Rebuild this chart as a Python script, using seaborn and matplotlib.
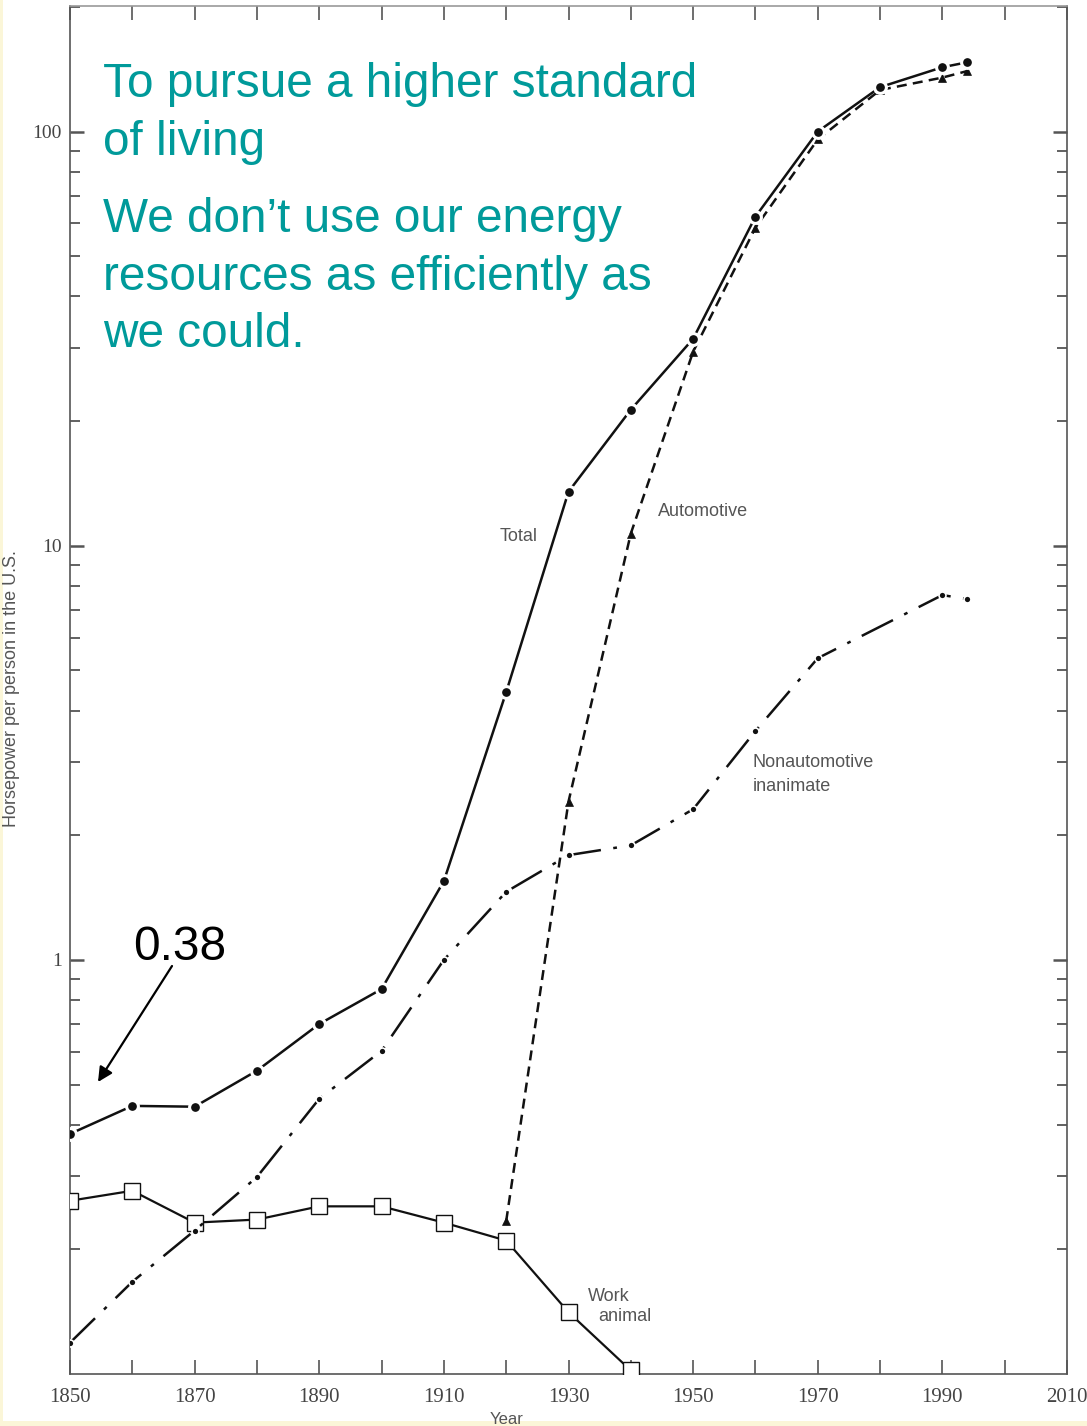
import matplotlib
matplotlib.use("Agg")
import matplotlib.pyplot as plt
import matplotlib.ticker as mticker
from matplotlib.patches import Rectangle
import numpy as np
import pandas as pd
import seaborn as sns

# Horsepower per person in the U.S., by source
years_total = [1850, 1860, 1870, 1880, 1890, 1900, 1910, 1920, 1930, 1940, 1950, 1960, 1970, 1980, 1990, 1994]
hp_total = [0.38, 0.444, 0.442, 0.54, 0.70, 0.85, 1.55, 4.43, 13.5, 21.3, 31.6, 62.3, 100, 128, 143, 147]

years_auto = [1920, 1930, 1940, 1950, 1960, 1970, 1980, 1990, 1994]
hp_auto = [0.234, 2.41, 10.7, 29.4, 58.6, 95.7, 126, 135, 140]

years_nonauto = [1850, 1860, 1870, 1880, 1890, 1900, 1910, 1920, 1930, 1940, 1950, 1960, 1970, 1990, 1994]
hp_nonauto = [0.119, 0.167, 0.222, 0.299, 0.462, 0.603, 1.0, 1.46, 1.79, 1.89, 2.31, 3.57, 5.35, 7.60, 7.43]

years_animal = [1850, 1860, 1870, 1880, 1890, 1900, 1910, 1920, 1930, 1940]
hp_animal = [0.262, 0.277, 0.232, 0.236, 0.254, 0.254, 0.232, 0.210, 0.141, 0.102]

x_ticks = list(range(1850, 2011, 10))
x_labels = [str(y) if (y - 1850) % 20 == 0 else "" for y in x_ticks]

sns.set_style("white")
plt.rcParams["font.family"] = ["Liberation Sans", "DejaVu Sans"]

W, H = 1087, 1426
fig = plt.figure(figsize=(W / 100, H / 100), dpi=100)
fig.patch.set_facecolor("white")
ax = fig.add_axes([70 / W, 52 / H, 997 / W, 1368 / H])

ink = "#111111"
lw = 1.8

df_total = pd.DataFrame({"year": years_total, "hp": hp_total})
df_auto = pd.DataFrame({"year": years_auto, "hp": hp_auto})
df_non = pd.DataFrame({"year": years_nonauto, "hp": hp_nonauto})
df_anim = pd.DataFrame({"year": years_animal, "hp": hp_animal})

sns.lineplot(data=df_anim, x="year", y="hp", ax=ax, estimator=None, color=ink, lw=1.6,
             marker="s", markersize=11, markerfacecolor="white", markeredgecolor=ink,
             markeredgewidth=1.0, zorder=3)
sns.lineplot(data=df_non, x="year", y="hp", ax=ax, estimator=None, color=ink, lw=lw,
             linestyle=(0, (14, 5, 1.5, 5)), marker="o", markersize=5,
             markerfacecolor=ink, markeredgecolor="white", markeredgewidth=1.2, zorder=4)
sns.lineplot(data=df_auto, x="year", y="hp", ax=ax, estimator=None, color=ink, lw=lw,
             linestyle=(0, (4, 2.5)), marker="^", markersize=6,
             markerfacecolor=ink, markeredgecolor=ink, markeredgewidth=0.5, zorder=4)
sns.lineplot(data=df_total, x="year", y="hp", ax=ax, estimator=None, color=ink, lw=lw,
             marker="o", markersize=8.5, markerfacecolor=ink, markeredgecolor="white",
             markeredgewidth=2.2, zorder=5)

ax.set_yscale("log")
ax.set_xlim(1850, 2010)
ax.set_ylim(0.1, 201)
ax.set_xlabel("")
ax.set_ylabel("")

ax.set_xticks(x_ticks)
ax.set_xticklabels(x_labels)
ax.yaxis.set_major_locator(mticker.FixedLocator([1, 10, 100]))
ax.yaxis.set_major_formatter(mticker.FixedFormatter(["1", "10", "100"]))
ax.yaxis.set_minor_locator(mticker.LogLocator(base=10, subs=np.arange(2, 10)))
ax.yaxis.set_minor_formatter(mticker.NullFormatter())

ax.tick_params(axis="both", which="both", direction="in", colors="#555555",
               top=True, right=True, bottom=True, left=True)
ax.tick_params(axis="x", which="major", length=10, width=1.2, pad=10,
               labelsize=15, labelcolor="#444444")
ax.tick_params(axis="y", which="major", length=10, width=1.8, pad=6,
               labelsize=14, labelcolor="#444444")
ax.tick_params(axis="y", which="minor", length=7, width=1.3)
for lab in ax.get_xticklabels() + ax.get_yticklabels():
    lab.set_family("Liberation Serif")

for side, sp in ax.spines.items():
    sp.set_visible(True)
    sp.set_color("#555555")
    sp.set_linewidth(1.2)
ax.spines["top"].set_color("#999999")

# Series labels
lab_kw = dict(fontsize=13, color="#555555", va="center", ha="left")
ax.text(1919.0, 10 ** (-(537 - 961) / 414.5), "Total", **lab_kw)
ax.text(1944.4, 10 ** (-(512 - 961) / 414.5), "Automotive", **lab_kw)
ax.text(1959.6, 10 ** (-(763 - 961) / 414.5), "Nonautomotive", **lab_kw)
ax.text(1959.6, 10 ** (-(787 - 961) / 414.5), "inanimate", **lab_kw)
ax.text(1933.1, 10 ** (-(1298 - 961) / 414.5), "Work", **lab_kw)
ax.text(1934.7, 10 ** (-(1318 - 961) / 414.5), "animal", **lab_kw)

# Axis titles
fig.text(12 / W, 1 - 689 / H, "Horsepower per person in the U.S.", rotation=90,
         fontsize=13, color="#555555", ha="center", va="center")
fig.text(507 / W, 1 - 1419 / H, "Year", fontsize=12, color="#555555",
         ha="center", va="center")

# Headline text
teal = "#009a9a"
head_lines = [
    ("To pursue a higher standard", 97),
    ("of living", 155),
    ("We don\u2019t use our energy", 232),
    ("resources as efficiently as", 290),
    ("we could.", 347),
]
for txt, base in head_lines:
    fig.text(103 / W, 1 - base / H, txt, fontsize=34.4, color=teal,
             ha="left", va="baseline")

# Starting value callout
fig.text(133 / W, 1 - 960 / H, "0.38", fontsize=34.4, color="black",
         ha="left", va="baseline")
ax.annotate("", xy=(98 / W, 1 - 1082 / H), xycoords="figure fraction",
            xytext=(172 / W, 1 - 966 / H), textcoords="figure fraction",
            arrowprops=dict(arrowstyle="-|>", color="black", lw=1.6,
                            mutation_scale=22, shrinkA=0, shrinkB=0))

# Slide border tint
fig.patches.append(Rectangle((0, 0), 1, 5 / H, transform=fig.transFigure,
                             facecolor="#fbf6d8", edgecolor="none", zorder=-1))
fig.patches.append(Rectangle((0, 0), 3 / W, 1, transform=fig.transFigure,
                             facecolor="#fbf6d8", edgecolor="none", zorder=-1))

fig.savefig("out.png", dpi=100, facecolor=fig.get_facecolor())
